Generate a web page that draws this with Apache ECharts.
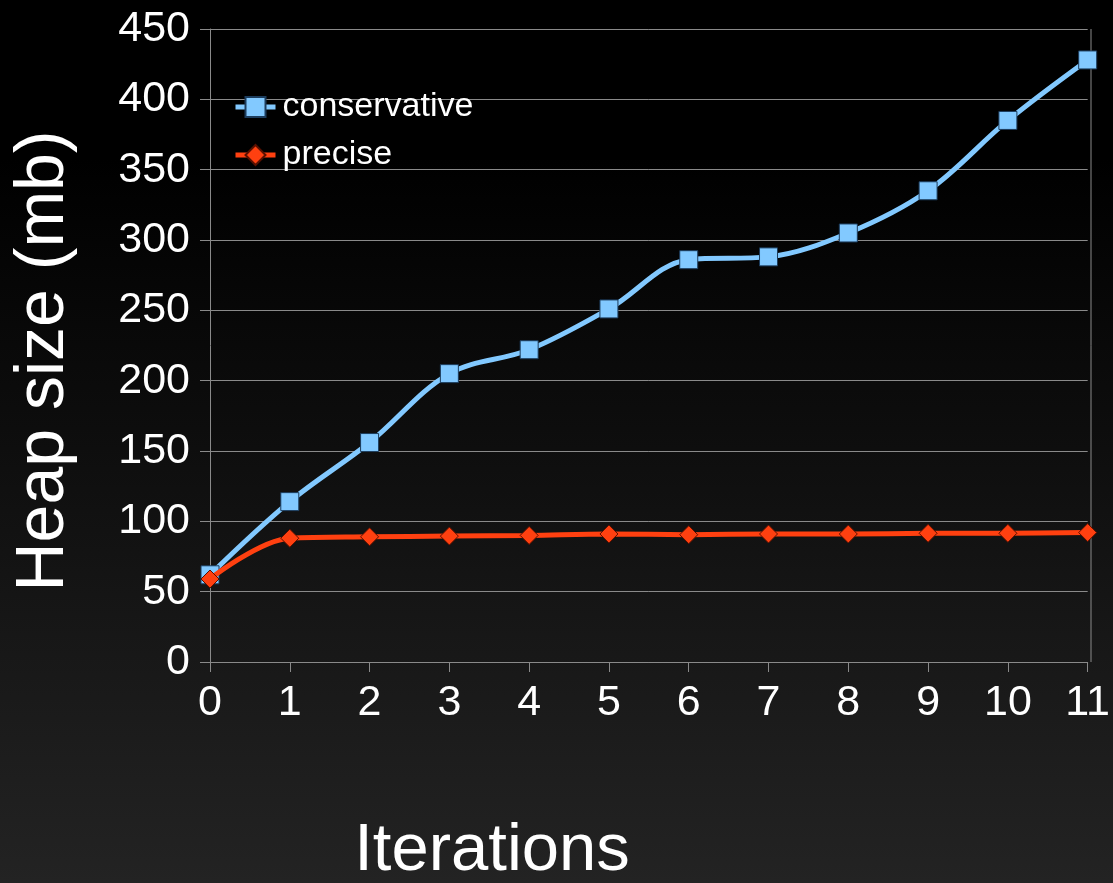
<!DOCTYPE html>
<html>
<head>
<meta charset="utf-8">
<title>Heap size per iteration</title>
<script src="https://cdn.jsdelivr.net/npm/echarts@6/dist/echarts.min.js"></script>
<style>
  html, body { margin: 0; padding: 0; }
  #chart {
    width: 1113px; height: 883px;
    background: linear-gradient(to bottom, #000 0%, #000 18%, #232323 100%);
  }
</style>
</head>
<body>
<div id="chart"></div>
<script>
// Iteration numbers along the x axis
const iterations = ['0', '1', '2', '3', '4', '5', '6', '7', '8', '9', '10', '11'];

// Heap size in megabytes after each iteration
const conservative = [62, 114, 156, 205, 222, 251, 286, 288, 305, 335, 385, 428];
const precise = [59, 88, 89, 89.5, 90, 91, 90.5, 91, 91, 91.5, 91.5, 92];

// Value axis range
const yMin = 0;
const yMax = 450;
const yStep = 50;

const FONT = 'Liberation Sans, Arial, sans-serif';
const AXIS_GREY = '#8a8a8a';

const chart = echarts.init(document.getElementById('chart'), null, { renderer: 'canvas' });

chart.setOption({
  backgroundColor: 'transparent',
  animation: false,
  textStyle: { fontFamily: FONT },
  grid: { left: 210, top: 29, right: 22, bottom: 221, containLabel: false },
  legend: {
    orient: 'vertical',
    left: 228,
    top: 85,
    itemGap: 14,
    itemWidth: 40,
    itemHeight: 25,
    lineStyle: { width: 5 },
    textStyle: { color: '#fff', fontSize: 34, fontFamily: FONT, padding: [0, 0, 0, 2] },
    data: ['conservative', 'precise']
  },
  xAxis: {
    type: 'category',
    data: iterations,
    boundaryGap: false,
    axisLine: { lineStyle: { color: AXIS_GREY, width: 1 } },
    axisTick: { show: true, length: 10, inside: false, lineStyle: { color: AXIS_GREY } },
    axisLabel: { color: '#fff', fontSize: 43, fontFamily: FONT, margin: 20 },
    splitLine: { show: false }
  },
  yAxis: {
    type: 'value',
    min: yMin,
    max: yMax,
    interval: yStep,
    axisLine: { show: true, lineStyle: { color: AXIS_GREY, width: 1 } },
    axisTick: { show: true, length: 10, lineStyle: { color: AXIS_GREY } },
    axisLabel: { color: '#fff', fontSize: 43, fontFamily: FONT, margin: 20 },
    splitLine: { show: true, lineStyle: { color: AXIS_GREY, width: 1 } }
  },
  graphic: [
    {
      // right edge of the plot frame
      type: 'line',
      shape: { x1: 1091, y1: 29, x2: 1091, y2: 662 },
      style: { stroke: AXIS_GREY, lineWidth: 1 },
      z: 1
    },
    {
      type: 'text',
      x: 44,
      y: 361,
      rotation: Math.PI / 2,
      style: {
        text: 'Heap size (mb)',
        fill: '#fff',
        font: '68px ' + FONT,
        align: 'center',
        verticalAlign: 'middle'
      }
    },
    {
      type: 'text',
      x: 492,
      y: 852,
      style: {
        text: 'Iterations',
        fill: '#fff',
        font: '67px ' + FONT,
        align: 'center',
        verticalAlign: 'middle'
      }
    }
  ],
  series: [
    {
      name: 'conservative',
      type: 'line',
      data: conservative,
      smooth: 0.35,
      symbol: 'rect',
      symbolSize: 18,
      showAllSymbol: true,
      lineStyle: { color: '#82c9ff', width: 5 },
      itemStyle: { color: '#82c9ff', borderColor: '#1c3c5c', borderWidth: 1 },
      z: 3
    },
    {
      name: 'precise',
      type: 'line',
      data: precise,
      smooth: 0.35,
      symbol: 'diamond',
      symbolSize: 18,
      showAllSymbol: true,
      lineStyle: { color: '#ff4010', width: 5 },
      itemStyle: { color: '#ff4010', borderColor: '#5a1000', borderWidth: 1 },
      z: 4
    }
  ]
});
</script>
</body>
</html>
